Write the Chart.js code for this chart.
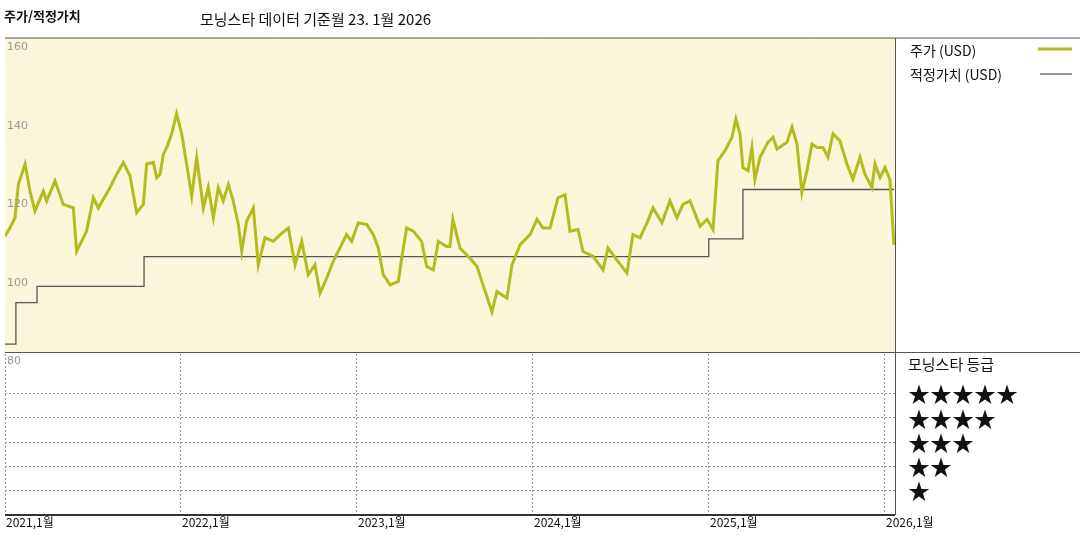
<!DOCTYPE html>
<html>
<head>
<meta charset="utf-8">
<script src="https://cdn.jsdelivr.net/npm/chart.js@4"></script>
<style>
  body { margin: 0; background: #fff; font-family: "Noto Sans CJK KR", sans-serif; }
  #wrap { position: relative; width: 1080px; height: 540px; }
  .t { position: absolute; white-space: nowrap; color: #111; }
</style>
</head>
<body>
<div id="wrap">
  <canvas id="chart" width="1080" height="540"></canvas>
  <div class="t" style="left:4px;top:6px;font-size:13px;font-weight:bold;">주가/적정가치</div>
  <div class="t" style="left:200px;top:8px;font-size:15px;">모닝스타 데이터 기준월 23. 1월 2026</div>
  <div class="t" style="left:910px;top:40px;font-size:14px;">주가 (USD)</div>
  <div class="t" style="left:910px;top:64px;font-size:14px;">적정가치 (USD)</div>
  <div class="t" style="left:908px;top:353px;font-size:15px;">모닝스타 등급</div>
  <div class="t" style="left:908px;top:376px;font-size:22px;">★★★★★</div>
  <div class="t" style="left:908px;top:401px;font-size:22px;">★★★★</div>
  <div class="t" style="left:908px;top:425px;font-size:22px;">★★★</div>
  <div class="t" style="left:908px;top:449px;font-size:22px;">★★</div>
  <div class="t" style="left:908px;top:473px;font-size:22px;">★</div>
</div>
<script>
const priceYears = [2021.000,2021.028,2021.057,2021.076,2021.114,2021.142,2021.170,2021.218,2021.237,2021.284,
  2021.331,2021.388,2021.407,2021.464,2021.502,2021.530,2021.597,2021.635,2021.672,2021.710,
  2021.748,2021.786,2021.805,2021.843,2021.862,2021.881,2021.900,2021.919,2021.947,2021.975,
  2022.004,2022.032,2022.061,2022.089,2022.127,2022.155,2022.184,2022.212,2022.240,2022.269,
  2022.297,2022.326,2022.345,2022.373,2022.411,2022.439,2022.477,2022.525,2022.563,2022.610,
  2022.648,2022.686,2022.723,2022.761,2022.790,2022.828,2022.865,2022.903,2022.941,2022.970,
  2023.007,2023.055,2023.093,2023.121,2023.149,2023.188,2023.235,2023.254,2023.282,2023.320,
  2023.367,2023.396,2023.434,2023.462,2023.510,2023.528,2023.545,2023.585,2023.642,2023.682,
  2023.716,2023.767,2023.795,2023.852,2023.881,2023.926,2023.983,2024.023,2024.057,2024.097,
  2024.142,2024.182,2024.210,2024.256,2024.284,2024.341,2024.398,2024.426,2024.483,2024.534,
  2024.568,2024.608,2024.648,2024.682,2024.733,2024.778,2024.818,2024.852,2024.892,2024.949,
  2024.989,2025.023,2025.051,2025.091,2025.131,2025.153,2025.176,2025.193,2025.222,2025.244,
  2025.261,2025.290,2025.335,2025.364,2025.386,2025.443,2025.472,2025.500,2025.528,2025.557,
  2025.585,2025.614,2025.648,2025.676,2025.705,2025.744,2025.784,2025.818,2025.858,2025.886,
  2025.926,2025.943,2025.972,2026.000,2026.028,2026.051];
const priceValues = [109.5,111.6,114.2,122.7,127.9,121.0,115.9,121.0,118.5,123.6,
  117.6,116.7,105.6,110.8,119.3,116.7,121.9,125.3,128.3,124.9,
  115.5,117.6,127.9,128.3,124.4,125.3,130.4,132.1,135.6,140.7,
  135.6,127.9,119.7,129.6,116.7,121.9,114.2,121.9,118.5,122.7,
  118.5,112.5,105.6,113.3,116.7,102.2,109.1,108.2,109.9,111.6,
  102.2,108.2,99.7,102.2,95.0,98.8,103.1,106.5,109.9,108.2,
  112.9,112.5,109.9,106.5,99.7,97.1,98.0,103.9,111.6,110.8,
  108.2,101.8,100.9,108.2,106.9,106.9,113.8,106.5,103.9,101.8,
  97.1,90.2,95.4,93.7,102.2,107.3,109.9,113.8,111.6,111.6,
  119.3,120.1,110.8,111.2,105.6,104.4,100.9,106.5,103.1,100.1,
  109.9,109.1,112.9,116.7,112.9,118.5,114.2,117.6,118.5,112.0,
  113.8,111.2,128.7,131.3,134.7,139.4,135.6,127.0,126.2,132.1,
  124.0,129.6,133.4,134.7,131.7,133.4,137.3,133.0,120.6,126.2,
  133.0,132.1,132.1,129.6,135.6,133.8,127.9,124.0,129.6,125.3,
  121.9,127.9,124.4,127.0,124.0,107.3];

// fair value steps
const fairYears = [2021.000, 2021.062, 2021.182, 2021.790, 2024.999, 2025.193, 2026.051];
const fairValues = [82.0, 92.6, 96.7, 104.3, 108.8, 121.4, 121.4];

// star rating segments: [start, end, stars]
const ratingSegments = [
  [2021.000, 2022.335, 2], [2021.052, 2021.060, 1],
  [2022.335, 2023.756, 3], [2023.768, 2023.778, 4],
  [2023.795, 2024.125, 3], [2024.131, 2024.210, 2],
  [2024.216, 2024.693, 3], [2024.693, 2024.994, 2],
  [2025.006, 2025.040, 3], [2025.045, 2025.188, 2],
  [2025.193, 2025.460, 3], [2025.466, 2025.528, 2],
  [2025.534, 2026.045, 3]
];
const yearTicks = [2021, 2022, 2023, 2024, 2025, 2026];
const yearLabels = ['2021,1월', '2022,1월', '2023,1월', '2024,1월', '2025,1월', '2026,1월'];
const priceTicks = [80, 100, 120, 140, 160];

const ratingSets = ratingSegments.map(s => ({
  data: [{ x: s[0], y: s[2] }, { x: s[1], y: s[2] }],
  borderColor: s[2] === 1 ? '#555' : '#3c3c3c',
  borderWidth: s[2] === 1 ? 14 : 18,
  borderCapStyle: 'butt', pointRadius: 0, yAxisID: 'r', clip: false
}));

const decor = {
  id: 'decor',
  beforeDatasetsDraw(chart) {
    const c = chart.ctx, a = chart.chartArea, y = chart.scales.y;
    c.save();
    c.fillStyle = '#faf6da';
    c.fillRect(a.left, y.top, a.width, y.bottom - y.top);
    c.restore();
  },
  afterDraw(chart) {
    const c = chart.ctx, a = chart.chartArea, x = chart.scales.x, y = chart.scales.y;
    c.save();
    c.strokeStyle = '#555'; c.lineWidth = 1;
    c.beginPath();
    c.moveTo(a.left, a.top); c.lineTo(1080, a.top);
    c.moveTo(a.right + 0.5, a.top); c.lineTo(a.right + 0.5, a.bottom);
    c.moveTo(a.left, y.bottom + 0.5); c.lineTo(1080, y.bottom + 0.5);
    c.stroke();
    c.strokeStyle = '#333'; c.lineWidth = 2;
    c.beginPath(); c.moveTo(a.left, a.bottom); c.lineTo(a.right, a.bottom); c.stroke();
    c.fillStyle = '#999'; c.font = '11px "DejaVu Sans"'; c.textBaseline = 'top';
    priceTicks.forEach(v => c.fillText(String(v), a.left + 2, y.getPixelForValue(v) + 4));
    c.fillStyle = '#111'; c.font = '12px "Noto Sans CJK KR"';
    yearTicks.forEach((t, i) => c.fillText(yearLabels[i], x.getPixelForValue(t) + 1, a.bottom + 1));
    c.strokeStyle = '#b3bb1f'; c.lineWidth = 3;
    c.beginPath(); c.moveTo(1038, 49); c.lineTo(1072, 49); c.stroke();
    c.strokeStyle = '#555'; c.lineWidth = 1.2;
    c.beginPath(); c.moveTo(1040, 74); c.lineTo(1072, 74); c.stroke();
    c.restore();
  }
};

new Chart(document.getElementById('chart'), {
  type: 'line',
  data: {
    datasets: [
      { data: priceYears.map((t, i) => ({ x: t, y: priceValues[i] })), borderColor: '#b3bb1f', borderWidth: 3, pointRadius: 0, tension: 0, yAxisID: 'y' },
      { data: fairYears.map((t, i) => ({ x: t, y: fairValues[i] })), borderColor: '#555', borderWidth: 1.3, pointRadius: 0, stepped: 'before', yAxisID: 'y' }
    ].concat(ratingSets)
  },
  options: {
    responsive: false, animation: false,
    layout: { padding: { left: 5, right: 185, top: 38, bottom: 25 } },
    plugins: { legend: { display: false }, tooltip: { enabled: false } },
    scales: {
      x: { type: 'linear', min: 2021, max: 2026.057, afterBuildTicks: s => { s.ticks = yearTicks.map(v => ({ value: v })); },
           ticks: { display: false }, grid: { color: '#999', drawTicks: false }, border: { display: false, dash: [2, 2] } },
      r: { type: 'linear', min: 0, max: 6.7, stack: 'p', stackWeight: 163, position: 'left', offset: false,
           afterBuildTicks: s => { s.ticks = [1, 2, 3, 4, 5].map(v => ({ value: v })); },
           ticks: { display: false }, grid: { color: '#999', drawTicks: false }, border: { display: false, dash: [2, 2] } },
      y: { type: 'linear', min: 80, max: 160, stack: 'p', stackWeight: 314, position: 'left',
           afterBuildTicks: s => { s.ticks = priceTicks.map(v => ({ value: v })); },
           ticks: { display: false }, grid: { color: '#777', drawTicks: false }, border: { display: false, dash: [2, 2] } }
    }
  },
  plugins: [decor]
});
</script>
</body>
</html>
